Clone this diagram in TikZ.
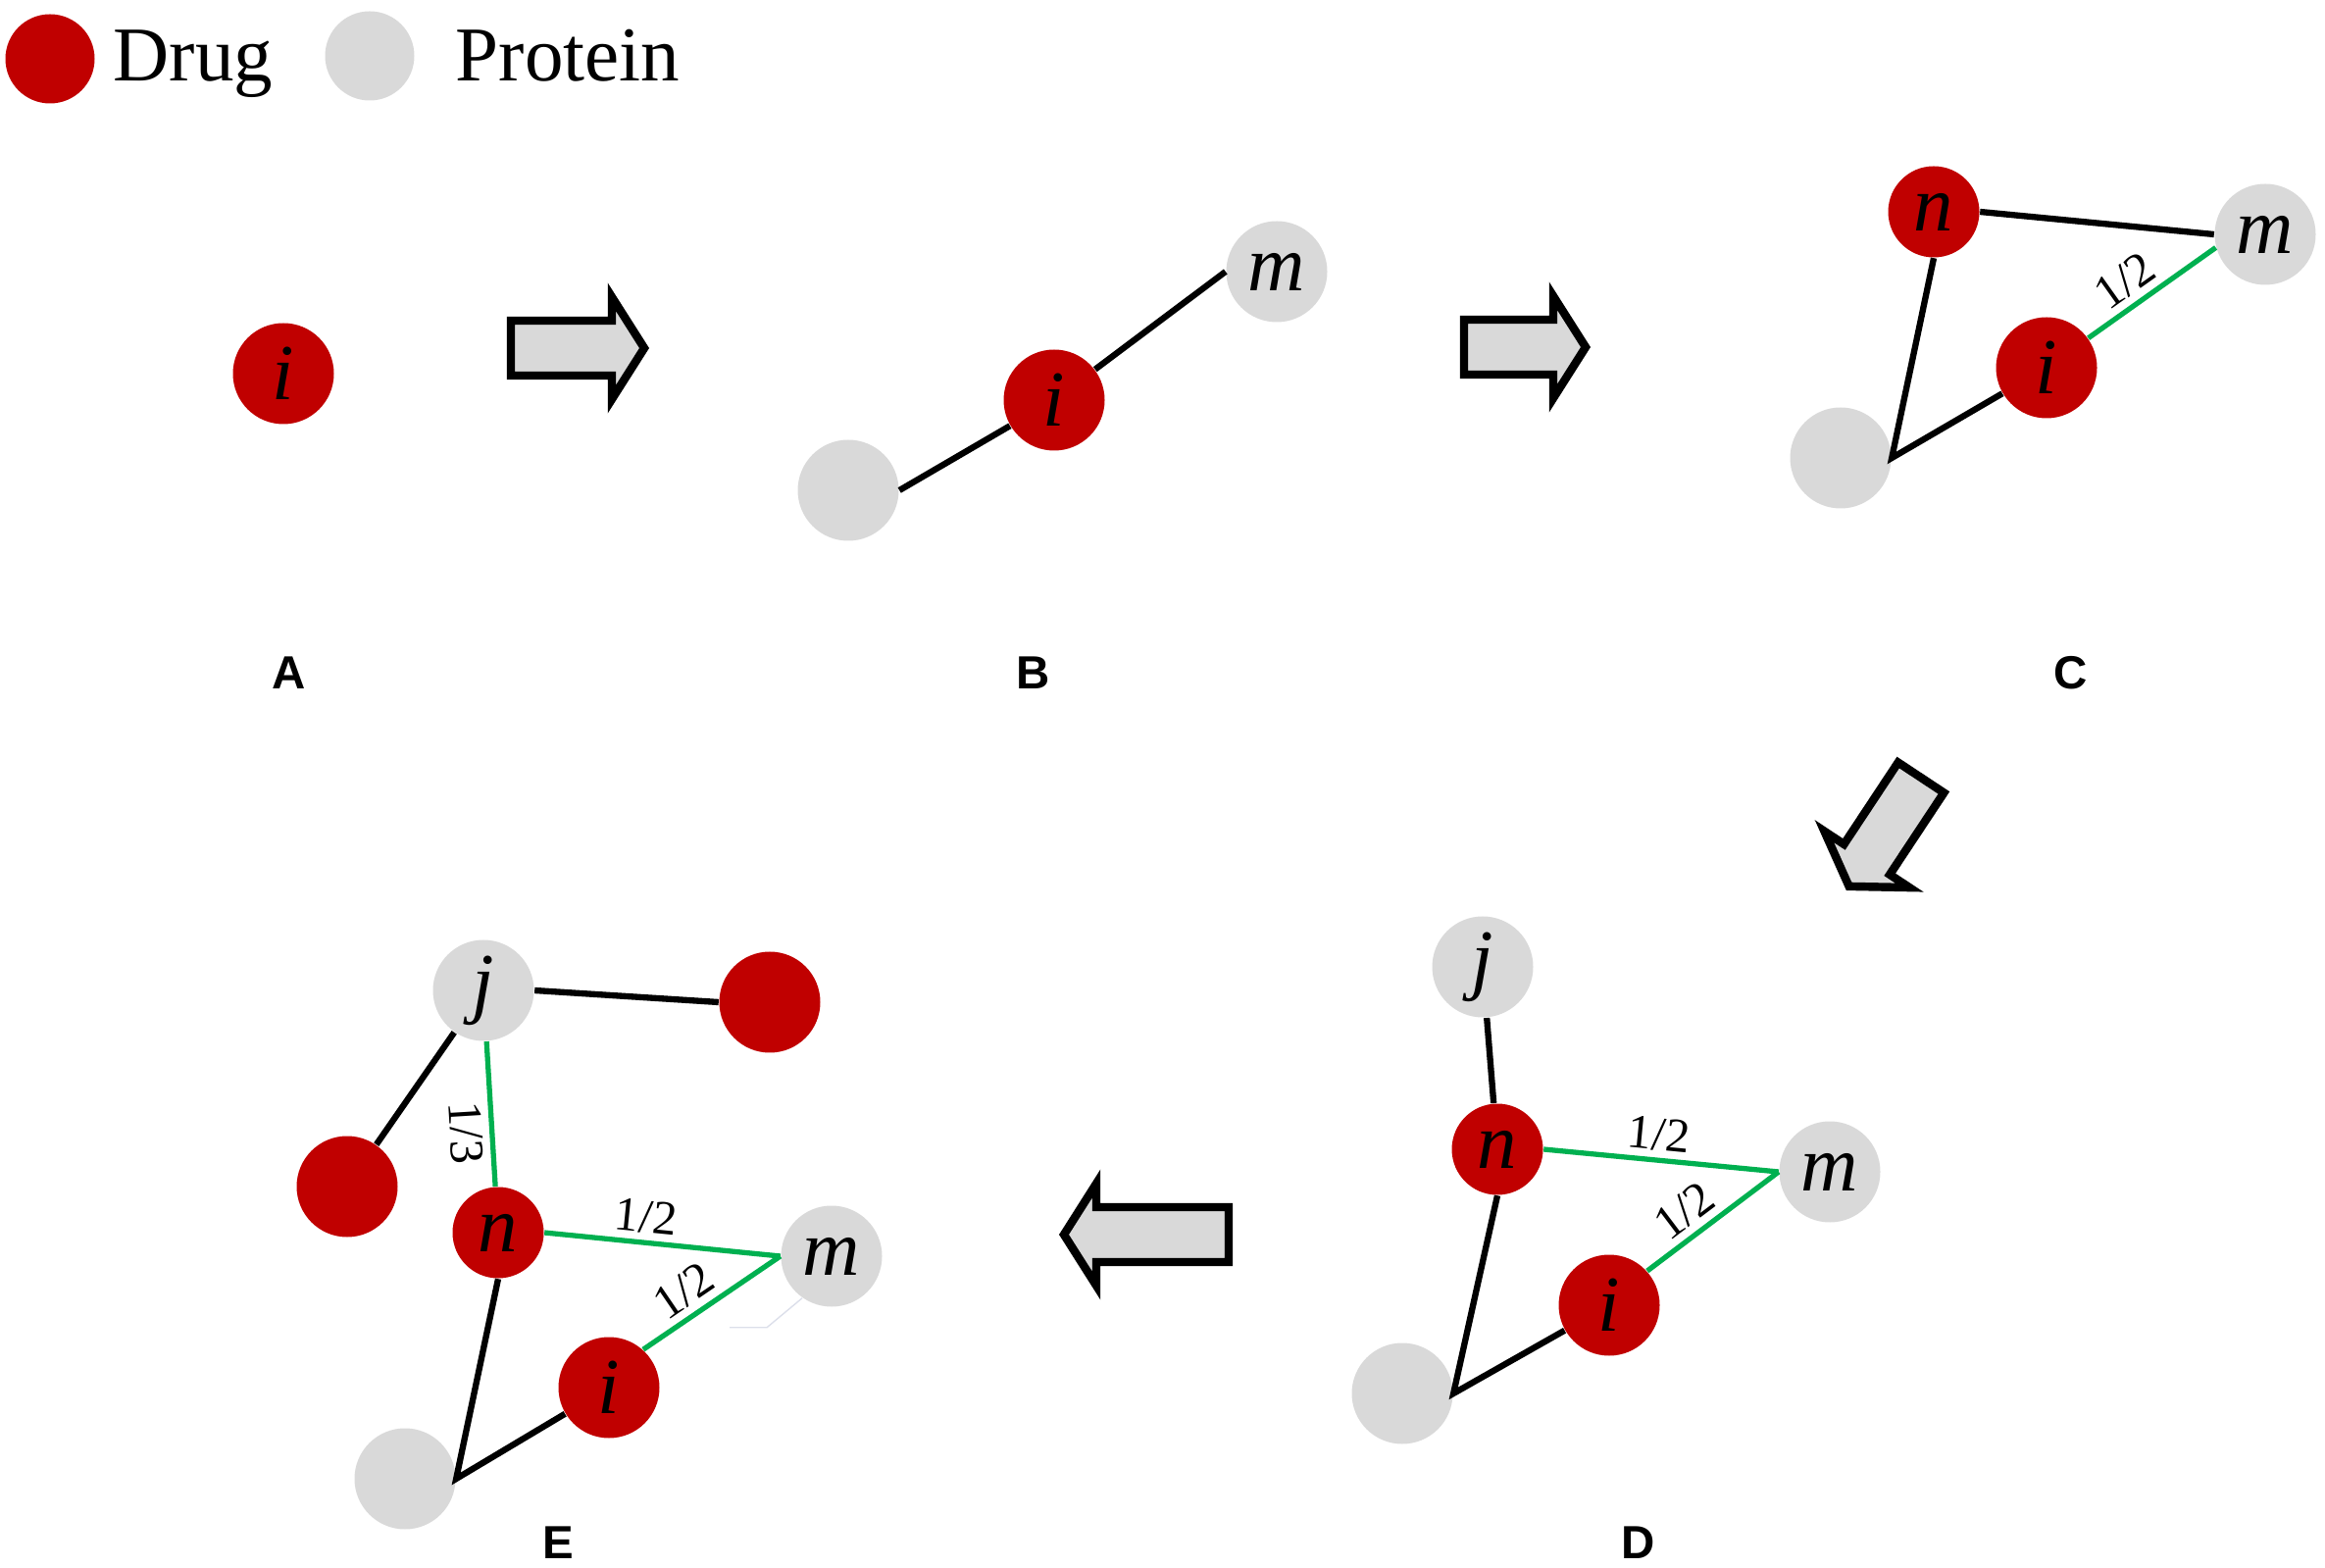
\documentclass[tikz,border=0pt]{standalone}
\usepackage{fontspec}
\setmainfont{Liberation Serif}
\newfontfamily\labfont{Liberation Sans}
\definecolor{drugred}{HTML}{C00000}
\definecolor{protgray}{HTML}{D9D9D9}
\definecolor{edgegreen}{HTML}{00B050}
\definecolor{faintline}{HTML}{DCDFEA}
\tikzset{
  letterfont/.style={font=\fontsize{23}{27}\selectfont\itshape},
  drug/.style={circle, fill=drugred, minimum size=10.3mm, inner sep=0pt, letterfont},
  drugsmall/.style={drug, minimum size=9.3mm},
  prot/.style={circle, fill=protgray, minimum size=10.3mm, inner sep=0pt, letterfont},
  bond/.style={line width=1.8pt, black},
  gbond/.style={line width=1.5pt, edgegreen},
  wlab/.style={font=\fontsize{14}{16}\selectfont, inner sep=2pt, text=black},
  panel/.style={font=\labfont\bfseries\fontsize{13.5}{16}\selectfont},
  legtext/.style={font=\fontsize{22.5}{26}\selectfont, inner sep=0pt, anchor=base west},
  fatarrow/.style={draw=black, fill=protgray, line width=2.4pt, line join=miter},
}
\newcommand{\fatarr}[4]{\draw[fatarrow, shift={(#1,#2)}, rotate=#3]
  (0,-28) -- ({#4-33},-28) -- ({#4-33},-52) -- (#4,0) -- ({#4-33},52) -- ({#4-33},28) -- (0,28) -- cycle;}
\begin{document}
\begin{tikzpicture}[x=0.1mm, y=-0.1mm]
\useasboundingbox (0,0) rectangle (2371,1599);

% legend
\node[circle, fill=drugred, minimum size=9.1mm, inner sep=0pt] (legdrug) at (51,60) {};
\node[legtext] (legdrugtxt) at (115,83) {Drug};
\node[circle, fill=protgray, minimum size=9.1mm, inner sep=0pt] (legprot) at (377,57) {};
\node[legtext] (legprottxt) at (464,83) {Protein};

% panel A
\node[drug] (ai) at (289,381) {i};
\node[panel] (labA) at (295,686) {A};

% big arrows
\fatarr{521}{355}{0}{136}
\fatarr{1493}{354}{0}{124}
\fatarr{1959}{793}{236.5}{133}
\fatarr{1253}{1259}{180}{168}

% panel B
\node[prot] (bg) at (865,500) {};
\node[drug] (bi) at (1075,408) {i};
\node[prot] (bm) at (1302,277) {m};
\draw[bond] (bg.east) -- (bi);
\draw[bond] (bi) -- (bm.west);
\node[panel] (labB) at (1054,686) {B};

% panel C
\node[drugsmall] (cn) at (1972,216) {n};
\node[prot] (cm) at (2310,239) {m};
\node[drug] (ci) at (2087,375) {i};
\node[prot] (cg) at (1877,467) {};
\draw[bond] (cn.east) -- (cm.west);
\draw[bond] (cn.south) -- (cg.east) -- (ci);
\draw[gbond] (ci) -- node[wlab, sloped, above, pos=0.4] {1/2} (cm.195);
\node[panel] (labC) at (2112,686) {C};

% panel D
\node[prot] (dj) at (1512,986) {j};
\node[drugsmall] (dn) at (1527,1172) {n};
\node[prot] (dm) at (1866,1195) {m};
\node[drug] (di) at (1641,1331) {i};
\node[prot] (dg) at (1430,1421) {};
\draw[bond] (dj) -- (dn);
\draw[gbond] (dn.east) -- node[wlab, sloped, above, pos=0.48] {1/2} (dm.west);
\draw[gbond] (di.42) -- node[wlab, sloped, above, pos=0.4] {1/2} (dm.west);
\draw[bond] (dn.south) -- (dg.east) -- (di);
\node[panel] (labD) at (1671,1573) {D};

% panel E
\node[prot] (ej) at (493,1010) {j};
\node[drug] (er1) at (785,1022) {};
\node[drug] (er2) at (354,1210) {};
\node[drugsmall] (en) at (508,1257) {n};
\node[prot] (em) at (848,1281) {m};
\node[drug] (ei) at (621,1415) {i};
\node[prot] (eg) at (413,1508) {};
\draw[bond] (ej.east) -- (er1.west);
\draw[bond] (ej) -- (er2);
\draw[gbond] (ej) -- node[wlab, sloped, below, pos=0.62] {1/3} (en);
\draw[gbond] (en.east) -- node[wlab, sloped, above, pos=0.42] {1/2} (em.west);
\draw[gbond] (ei.48) -- node[wlab, sloped, above, pos=0.4] {1/2} (em.west);
\draw[bond] (en.south) -- (eg.east) -- (ei);
\draw[faintline, line width=0.4pt] (em.235) -- ++(-36,30) -- ++(-38,0);
\node[panel] (labE) at (569,1573) {E};
\end{tikzpicture}
\end{document}
